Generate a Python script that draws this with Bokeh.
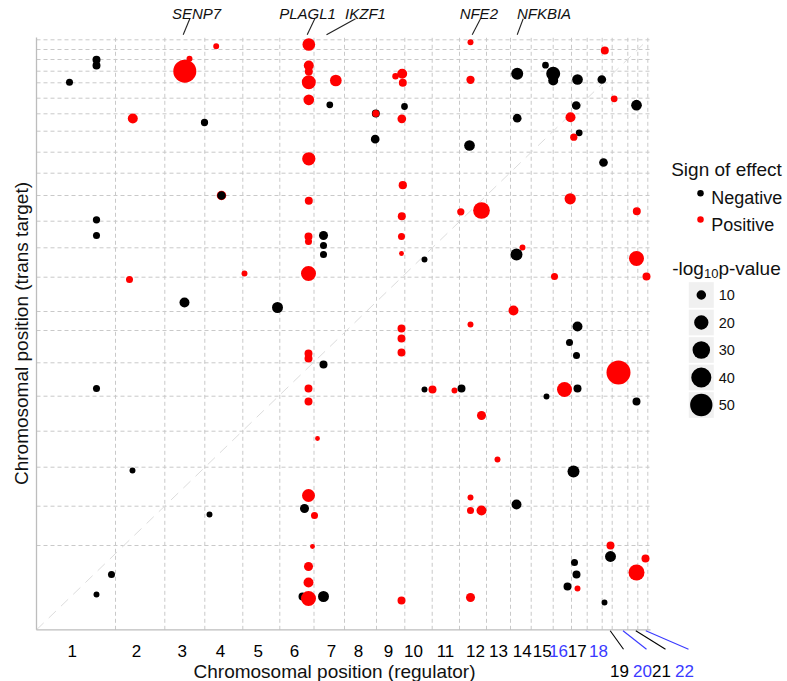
import numpy as np
from bokeh.plotting import figure
from bokeh.models import Range1d
from bokeh.core.properties import value
from bokeh.embed import file_html
from bokeh.resources import INLINE

# ---------------- data ----------------
chrom_names = [str(i) for i in range(1, 23)]
# relative chromosome lengths as laid out on each axis (arbitrary units)
chrom_len_reg = [79, 49.3, 40, 38, 37, 34.2, 30.5, 32, 28.3, 27.4, 27.3, 27, 24,
                 20.7, 22, 18.3, 15.7, 15, 10, 15.6, 10, 10]
chrom_len_tgt = [84.3, 39.3, 39, 36, 35, 33.4, 32.3, 19, 34.3, 29.4, 26.6, 25.7,
                 22.3, 21, 21, 17.4, 15.6, 15.4, 11.6, 11.7, 10, 9.7]
# label positions of chromosomes 1-18 along the regulator axis
chrom_tick_pos = [35.7, 100, 145.7, 184, 221.7, 258, 295, 322, 352, 377, 409, 439,
                  462, 485.7, 505.7, 522, 540.7, 562]

# cumulative positions of regulator (x) and trans target (y)
reg_pos = [179.7, 60, 60, 153, 148.3, 33, 272.3, 272.3, 272.3, 272.3, 299.3, 272.3,
           293.3, 96.3, 168, 272.3, 185, 185, 272.3, 60, 434, 568.3, 509, 516.7,
           516.7, 480.7, 365.7, 359, 366.3, 434, 541, 565.3, 577.7, 600, 539.7, 368,
           339.3, 339.3, 365.3, 480.7, 534, 542.7, 537.3, 338.7, 433, 567, 366.3,
           533.7, 424.3, 445, 365.3, 600.3, 60, 272, 272, 287, 287, 287, 365, 365,
           388, 480, 486, 600, 610, 272, 93, 208, 518, 148, 241, 477, 434, 541, 365,
           365, 533, 365, 272, 272, 540, 287, 582, 60, 272, 388, 396, 418, 425, 528,
           541, 510, 272, 600, 445, 281, 96, 461, 537, 272, 268, 278, 434, 434, 445,
           480, 173, 276, 574, 574, 609, 538, 600, 75, 272, 272, 540, 531, 541, 60,
           266, 272, 287, 365, 434, 568]
tgt_pos = [583.6, 570, 564.3, 571, 558.6, 547.6, 585.3, 564.3, 558.3, 547.6, 549.3,
           530, 525, 511.3, 507.3, 471, 434.3, 434.3, 429, 410, 587.6, 579.3, 564.6,
           556, 549.3, 556, 556, 553.6, 547, 550, 550.3, 550.3, 531, 524.6, 524.3,
           523.3, 516.3, 516.3, 511, 511.6, 512.6, 497, 492.6, 490.6, 484.3, 467.3,
           444.6, 431, 418, 419.3, 413.6, 418.6, 394.3, 393.3, 388.3, 394.3, 384.3,
           375.3, 393.3, 376.3, 370.3, 375.3, 382.3, 371.3, 353.3, 356.3, 350.3,
           356.3, 353.3, 327.3, 322.3, 319.3, 305.3, 303.3, 301.3, 291.3, 287.3,
           277.3, 276.3, 271.3, 274.3, 265.3, 257.3, 241.3, 241.3, 240.3, 240.3,
           239.3, 241.3, 240.3, 241.3, 233.3, 228.3, 228.3, 214.3, 191.3, 159.3,
           170.3, 158.3, 134.3, 121.3, 114.3, 132.3, 119.3, 119.3, 125.3, 115.3,
           83.3, 84.3, 73.3, 71.3, 67.3, 57.3, 55.3, 63.3, 47.3, 55.3, 43.3, 41.3,
           35.3, 33.3, 31.3, 33.3, 29.3, 32.3, 27.3]
sign = ["Positive", "Negative", "Negative", "Positive", "Positive", "Negative",
        "Positive", "Positive", "Positive", "Positive", "Positive", "Positive",
        "Negative", "Positive", "Negative", "Positive", "Positive", "Negative",
        "Positive", "Negative", "Positive", "Positive", "Negative", "Negative",
        "Negative", "Negative", "Positive", "Positive", "Positive", "Positive",
        "Negative", "Negative", "Positive", "Negative", "Negative", "Negative",
        "Negative", "Positive", "Positive", "Negative", "Positive", "Negative",
        "Positive", "Negative", "Negative", "Negative", "Positive", "Positive",
        "Positive", "Positive", "Positive", "Positive", "Negative", "Positive",
        "Positive", "Negative", "Negative", "Negative", "Positive", "Positive",
        "Negative", "Negative", "Positive", "Positive", "Positive", "Positive",
        "Positive", "Positive", "Positive", "Negative", "Negative", "Positive",
        "Positive", "Negative", "Positive", "Positive", "Negative", "Positive",
        "Positive", "Positive", "Negative", "Negative", "Positive", "Negative",
        "Positive", "Negative", "Positive", "Positive", "Negative", "Positive",
        "Negative", "Negative", "Positive", "Negative", "Positive", "Positive",
        "Negative", "Positive", "Negative", "Positive", "Negative", "Positive",
        "Positive", "Positive", "Positive", "Negative", "Negative", "Positive",
        "Positive", "Negative", "Positive", "Negative", "Positive", "Negative",
        "Positive", "Positive", "Negative", "Negative", "Positive", "Negative",
        "Negative", "Positive", "Negative", "Positive", "Positive", "Negative"]
neglog10p = [6.5, 8.1, 8.1, 6.5, 53.4, 7.2, 15.9, 10.7, 8.1, 19.1, 13.8, 11.9, 7.0,
             10.7, 7.4, 17.3, 10.0, 8.7, 8.1, 7.4, 6.5, 8.1, 7.0, 19.1, 10.7, 14.4,
             10.7, 6.8, 8.1, 8.4, 11.9, 8.9, 7.0, 11.9, 8.9, 7.0, 8.1, 7.2, 8.9, 8.9,
             10.7, 7.0, 7.4, 8.9, 11.9, 8.9, 8.4, 12.9, 7.4, 27.2, 8.1, 8.1, 7.2, 8.1,
             7.2, 9.3, 7.2, 7.2, 7.2, 6.1, 6.5, 14.4, 6.5, 21.9, 8.1, 21.9, 7.2, 6.5,
             7.2, 10.7, 12.4, 10.7, 6.5, 10.7, 8.1, 8.1, 7.2, 8.1, 8.1, 8.1, 7.2, 8.1,
             58.5, 7.2, 8.1, 6.5, 8.1, 6.5, 8.1, 21.9, 8.1, 6.5, 8.1, 8.1, 9.3, 6.1,
             6.5, 6.5, 14.4, 16.6, 9.3, 7.2, 6.5, 7.2, 10.7, 10.7, 6.5, 6.1, 8.1,
             12.4, 8.1, 7.2, 24.9, 7.2, 9.3, 10.7, 8.1, 8.1, 6.5, 6.5, 8.1, 21.9,
             12.4, 8.1, 9.3, 6.5]

genes = ["SENP7", "PLAGL1", "IKZF1", "NFE2", "NFKBIA"]
gene_reg_pos = [146.7, 270.7, 290, 435.7, 480.7]

size_breaks = [10, 20, 30, 40, 50]
sign_levels = ["Negative", "Positive"]

# ---------------- layout / style ----------------
RED, BLACK, BLUE = "#ff0000", "#000000", "#3a3aff"
FONT = value("Liberation Sans")
GRID = "#c9c9c9"
TXT = "#111111"


def dot_size(v):
    v = np.asarray(v, dtype=float)
    return 4 + 2.76 * np.sqrt(np.clip(v - 6, 0, None))


reg_edges = np.concatenate([[0], np.cumsum(chrom_len_reg)])
tgt_edges = np.concatenate([[0], np.cumsum(chrom_len_tgt)])
reg_mid = (reg_edges[:-1] + reg_edges[1:]) / 2
x_end = reg_edges[-1] + 2.7
y_end = tgt_edges[-1] + 2.3

p = figure(width=787, height=681, x_range=Range1d(-36, 751),
           y_range=Range1d(-51.7, 629.3), output_backend="svg",
           toolbar_location=None, x_axis_location=None, y_axis_location=None,
           min_border=0, outline_line_color=None, background_fill_color="white",
           border_fill_color="white")
p.grid.visible = False

# grid lines at chromosome boundaries
vx = reg_edges[1:]
p.segment(x0=vx, y0=np.zeros_like(vx), x1=vx, y1=np.full_like(vx, y_end),
          line_color=GRID, line_dash="4 3", line_width=1)
hy = tgt_edges[1:]
p.segment(x0=np.zeros_like(hy), y0=hy, x1=np.full_like(hy, x_end), y1=hy,
          line_color=GRID, line_dash="4 3", line_width=1)
# cis diagonal
p.line([0, reg_edges[-1]], [0, tgt_edges[-1]], line_color="#dcdcdc",
       line_dash="10 7", line_width=1)
# axis lines
p.line([0, 0], [0, y_end], line_color="#bdbdbd", line_width=1.3)
p.line([0, x_end], [0, 0], line_color="#bdbdbd", line_width=1.3)

# points
colors = [RED if s == "Positive" else BLACK for s in sign]
p.scatter(x=reg_pos, y=tgt_pos, size=dot_size(neglog10p), fill_color=colors,
          line_color=None)

# x tick labels (chromosomes 1-18 under the axis)
lab_cols = [BLUE if n in ("16", "18", "20", "22") else BLACK for n in chrom_names]
p.text(x=chrom_tick_pos, y=np.full(18, -20.7), text=chrom_names[:18],
       text_color=lab_cols[:18], text_align="center", text_baseline="alphabetic",
       text_font=FONT, text_font_size="17px")
# chromosomes 19-22 placed lower with leader lines
low_label_x = np.array([583, 606, 625, 648])
p.segment(x0=reg_mid[18:] + 3, y0=np.full(4, -1.0), x1=low_label_x + 4,
          y1=np.full(4, -19.5), line_color=lab_cols[18:], line_width=1.1)
p.text(x=low_label_x, y=np.full(4, -40.7), text=chrom_names[18:],
       text_color=lab_cols[18:], text_align="center", text_baseline="alphabetic",
       text_font=FONT, text_font_size="17px")

# gene annotations
gene_label_x = np.array([160, 271, 329, 442.3, 507.5])
gene_line_top = np.array([153.3, 278.3, 319, 444, 486.7])
p.segment(x0=gene_reg_pos, y0=np.full(5, 595.0), x1=gene_line_top,
          y1=np.full(5, 611.0), line_color="#222222", line_width=1.1)
p.text(x=gene_label_x, y=np.full(5, 616.3), text=genes, text_align="center",
       text_baseline="alphabetic", text_font=FONT, text_font_style="italic",
       text_font_size="15px", text_color=TXT)

# axis titles
p.text(x=[298], y=[-41.7], text=["Chromosomal position (regulator)"],
       text_align="center", text_baseline="alphabetic", text_font=FONT,
       text_font_size="19px", text_color=TXT)
p.text(x=[-15], y=[296.3], text=["Chromosomal position (trans target)"],
       angle=np.pi / 2, text_align="center", text_baseline="alphabetic",
       text_font=FONT, text_font_size="19px", text_color=TXT)

# legend: sign of effect
p.text(x=[634.7], y=[460], text=["Sign of effect"], text_font=FONT,
       text_font_size="19px", text_baseline="alphabetic", text_color=TXT)
p.scatter(x=[664, 664], y=[436.6, 410.3], size=6.5, fill_color=[BLACK, RED],
          line_color=None)
p.text(x=[674.7, 674.7], y=[432.3, 405.3], text=sign_levels, text_font=FONT,
       text_font_size="18px", text_baseline="alphabetic", text_color=TXT)

# legend: -log10 p-value
p.text(x=[635.7], y=[361], text=["-log"], text_font=FONT, text_font_size="19px",
       text_baseline="alphabetic", text_color=TXT)
p.text(x=[667.4], y=[356.5], text=["10"], text_font=FONT, text_font_size="13px",
       text_baseline="alphabetic", text_color=TXT)
p.text(x=[681.9], y=[361], text=["p-value"], text_font=FONT, text_font_size="19px",
       text_baseline="alphabetic", text_color=TXT)
key_y = 334.8 - 27.5 * np.arange(len(size_breaks))
p.rect(x=np.full(len(size_breaks), 664.8), y=key_y, width=25, height=25.7,
       fill_color="#f0f0f0", line_color=None)
p.scatter(x=np.full(len(size_breaks), 664.8), y=key_y, size=dot_size(size_breaks),
          fill_color=BLACK, line_color=None)
p.text(x=np.full(len(size_breaks), 682.3), y=key_y, text=[str(b) for b in size_breaks],
       text_font=FONT, text_font_size="14.5px", text_baseline="middle",
       text_color=TXT)

open("out.html", "w").write(file_html(p, INLINE))
